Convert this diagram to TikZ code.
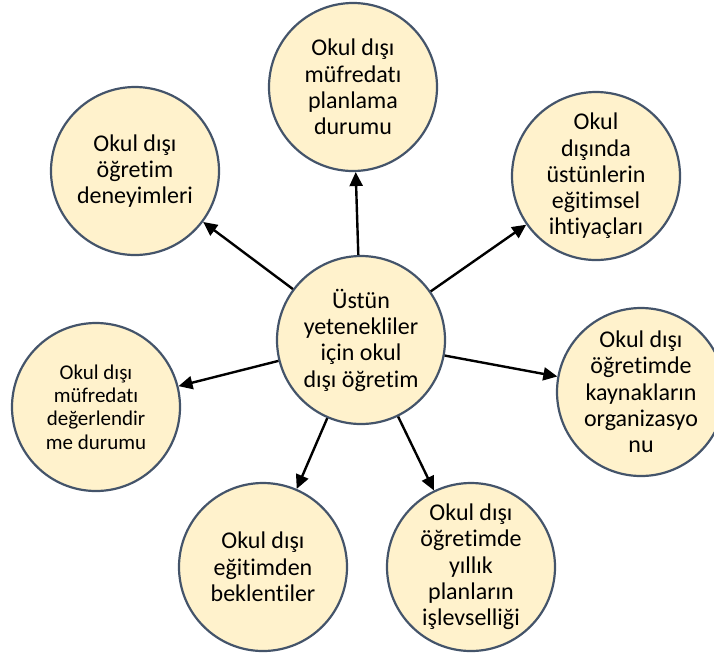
\documentclass[tikz,border=0pt]{standalone}
\usepackage{fontspec}
\setmainfont{Carlito}[Ligatures={NoCommon,NoContextual}]
\usetikzlibrary{arrows.meta}
\definecolor{cfill}{HTML}{FFF2CC}
\definecolor{cline}{HTML}{44546A}
\begin{document}
\begin{tikzpicture}[x=1pt,y=-1pt,
  bub/.style={circle,draw=cline,line width=2.2pt,fill=cfill,minimum size=168pt,inner sep=0pt,align=center,font=\fontsize{24}{26.3}\selectfont},
  smallbub/.style={bub,font=\fontsize{21}{23.3}\selectfont},
  arr/.style={-{Triangle[length=14pt,width=13pt]},line width=2.4pt,black}]
\useasboundingbox (0,0) rectangle (714,657);
\node[bub] (c) at (361,340) {Üstün\\yetenekliler\\için okul\\dışı öğretim};
\node[bub] (t) at (353,87) {Okul dışı\\müfredatı\\planlama\\durumu};
\node[bub] (ul) at (135,171) {Okul dışı\\öğretim\\deneyimleri};
\node[bub] (ur) at (596,176) {Okul\\dışında\\üstünlerin\\eğitimsel\\ihtiyaçları};
\node[bub] (r) at (641,392) {Okul dışı\\öğretimde\\kaynakların\\organizasyo\\nu};
\node[smallbub] (l) at (96,407) {Okul dışı\\müfredatı\\değerlendir\\me durumu};
\node[bub] (bl) at (263,567) {Okul dışı\\eğitimden\\beklentiler};
\node[bub] (br) at (471,567) {Okul dışı\\öğretimde\\yıllık\\planların\\işlevselliği};
\draw[arr] (c) -- (t);
\draw[arr] (c) -- (ul);
\draw[arr] (c) -- (ur);
\draw[arr] (c) -- (r);
\draw[arr] (c) -- (l);
\draw[arr] (c) -- (bl);
\draw[arr] (c) -- (br);
\end{tikzpicture}
\end{document}
